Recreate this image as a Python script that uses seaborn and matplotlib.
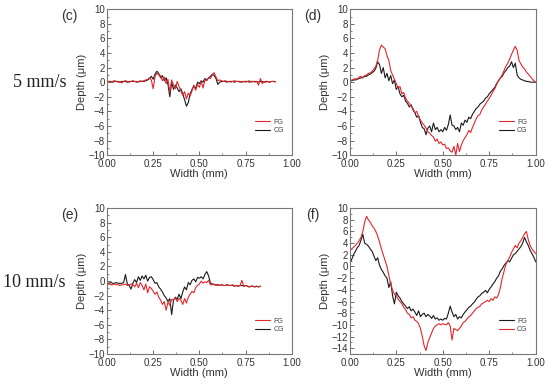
import numpy as np
import pandas as pd
import seaborn as sns
import matplotlib.pyplot as plt
from matplotlib.ticker import MultipleLocator

sns.set_style('ticks')
plt.rcParams['font.family'] = ['Liberation Sans', 'DejaVu Sans']

# ---- panel (c): 5 mm/s, narrow groove ----
x_c = np.round(np.arange(0, 0.915, 0.01), 2)
fg_c = [0.1, 0.1, 0.0, 0.1, 0.2, 0.1, 0.0, 0.1, -0.1, 0.1, 0.2, 0.1, 0.0, 0.1, 0.2, 0.1, 0.1, 0.0, 0.2, 0.1, 0.2, 0.3,
        0.4, 0.6, 0.3, -0.9, 0.8, 1.2, 1.0, 0.9, 0.2,
        0.7, -0.2, 0.4, -1.4, 0.3, -0.4, -0.9, 0.1, -0.6, -1.2,
        -1.8, -1.3, -2.3, -1.5, -1.9, -1.2, -0.4, -1.1, -0.3, -0.7,
        0.1, -0.8, 0.3, 0.2, 0.6, 0.5, 1.0, 1.3, 0.7, 0.2,
        0.3, 0.2, 0.1, 0.2, 0.1, 0.1, 0.0, 0.1, 0.2, 0.1,
        0.1, 0.0, 0.1, 0.1, 0.0, 0.1, 0.2, 0.0, 0.1, 0.0,
        0.1, -0.4, 0.5, -0.2, 0.1, 0.0, 0.1, 0.0, 0.1, 0.1, 0.0]
cg_c = [0.1, 0.1, 0.1, 0.0, 0.1, 0.1, 0.1, 0.0, 0.1, 0.1, 0.1, 0.0, 0.1, 0.1, 0.1, 0.1, 0.0, 0.1, 0.1, 0.1, 0.1, 0.2,
        0.3, 0.5, 0.8, 0.4, 1.1, 1.5, 1.2, 0.6, 0.9,
        0.2, 0.6, -0.3, -2.0, 0.0, -1.0, -0.4, -0.8, -1.3, -0.9,
        -1.6, -2.4, -3.3, -2.8, -1.6, -1.0, -0.5, -0.9, 0.0, -0.2,
        0.2, 0.0, 0.5, 0.3, 0.6, 0.8, 1.1, 0.9, 0.5, -0.3,
        0.0, 0.1, 0.1, 0.1, 0.0, 0.1, 0.1, 0.1, 0.0, 0.1,
        0.1, 0.1, 0.0, 0.1, 0.1, 0.1, 0.0, 0.1, 0.1, 0.1,
        0.1, 0.0, 0.1, 0.1, 0.0, 0.1, 0.1, 0.0, 0.1, 0.1, 0.1]

# ---- panel (d): 5 mm/s, wide groove ----
x_d = np.round(np.arange(0, 1.005, 0.01), 2)
fg_d = [0.2, 0.3, 0.4, 0.5, 0.4, 0.7, 0.8, 0.6, 0.9, 1.0,
        1.2, 1.3, 1.5, 1.8, 2.2, 3.0, 4.4, 5.1, 4.8, 4.6,
        3.6, 3.0, 1.6, 1.0, 0.4, -0.2, -0.8, -0.6, -1.6, -1.4,
        -2.2, -2.6, -2.9, -3.3, -3.6, -4.2, -4.0, -4.7, -5.2, -5.6,
        -5.9, -6.3, -6.8, -7.0, -7.3, -7.5, -8.1, -7.8, -8.4, -8.2,
        -8.6, -8.5, -9.1, -9.0, -9.4, -9.6, -8.8, -10.0, -8.4, -9.5,
        -8.6, -8.0, -7.6, -7.2, -6.6, -6.9, -6.2, -5.6, -5.0, -4.6,
        -4.4, -3.8, -3.4, -3.0, -2.6, -2.2, -1.8, -1.3, -0.9, -0.3,
        0.2, 0.6, 1.0, 1.6, 2.2, 2.6, 3.2, 3.8, 4.4, 4.9,
        4.4, 3.0, 2.5, 2.1, 1.8, 1.4, 1.1, 0.8, 0.5, 0.2, 0.0]
cg_d = [0.1, 0.2, 0.3, 0.3, 0.4, 0.5, 0.6, 0.6, 0.8, 0.8,
        1.0, 1.1, 1.3, 1.5, 1.9, 2.8, 2.4, 1.2, 2.0, 0.6,
        1.2, 0.2, 0.9, -0.2, 0.3, -1.0, -0.6, -1.6, -2.0, -1.8,
        -2.6, -2.9, -3.4, -3.1, -3.8, -4.2, -4.8, -4.6, -5.5, -6.2,
        -6.4, -7.2, -6.3, -6.0, -6.8, -5.6, -6.5, -6.2, -6.8, -6.5,
        -6.8, -6.2, -6.6, -5.8, -4.5, -5.9, -6.0, -6.5, -6.2, -6.8,
        -5.6, -5.9, -5.2, -5.5, -4.8, -5.0, -4.4, -4.0, -3.6, -3.4,
        -3.0, -2.8, -2.6, -2.2, -2.0, -1.6, -1.3, -1.0, -0.7, -0.2,
        0.2, 0.6, 0.8, 1.3, 1.6, 2.0, 2.2, 2.8, 2.0, 2.6,
        1.0, 0.6, 0.4, 0.3, 0.2, 0.1, 0.1, 0.0, 0.0, 0.0, 0.0]

# ---- panel (e): 10 mm/s, narrow groove ----
x_e = np.round(np.arange(0, 0.835, 0.01), 2)
fg_e = [-0.5, -0.4, -0.5, -0.5, -0.4, -0.5, -0.5, -0.6, -0.5, -0.5,
        -0.4, -0.6, -0.5, -0.4, -0.5, -0.8, -0.3, -0.9, -0.2, -0.6,
        -1.2, -0.4, -1.6, -0.8, -1.0, -1.4, -1.8, -1.5, -2.2, -2.6,
        -3.2, -2.8, -4.0, -2.9, -3.3, -2.5, -2.6, -2.3, -2.8, -2.4,
        -2.6, -3.2, -2.4, -3.0, -2.2, -1.8, -1.4, -1.6, -0.9, -0.6,
        -0.4, 0.0, -0.3, -0.1, -0.2, 0.1, -0.5, -0.5, -0.4, -0.6,
        -0.5, -0.6, -0.5, -0.6, -0.6, -0.5, -0.6, -0.6, -0.5, -0.7,
        -0.6, -0.7, -0.6, 0.1, -0.7, -0.6, -0.7, -0.8, -0.7, -0.7,
        -0.8, -0.7, -0.8, -0.7]
cg_e = [-0.3, -0.3, -0.2, -0.3, -0.3, -0.2, -0.3, -0.3, -0.3, -0.2,
        0.9, -0.4, -0.6, -1.1, -0.3, 0.2, -0.2, 0.6, 0.1, 0.7,
        0.3, 0.8, 0.0, 0.5, 0.6, 0.2, -0.3, -0.2, -0.8, -1.1,
        -1.5, -2.0, -2.3, -2.8, -2.4, -4.6, -2.6, -2.2, -2.5, -1.8,
        -2.4, -1.5, -0.8, -1.2, -0.2, -0.5, 0.1, 0.3, -0.1, 0.5,
        0.4, 0.6, 0.3, 0.9, 1.3, 0.7, -0.3, -0.4, -0.5, -0.5,
        -0.5, -0.6, -0.5, -0.6, -0.6, -0.5, -0.6, -0.6, -0.6, -0.7,
        -0.6, -0.7, -0.6, -0.6, -0.7, -0.6, -0.7, -0.8, -0.7, -0.7,
        -0.8, -0.7, -0.8, -0.7]

# ---- panel (f): 10 mm/s, wide groove ----
x_f = np.round(np.arange(0, 1.005, 0.01), 2)
fg_f = [0.5, 1.2, 2.0, 2.6, 3.2, 3.6, 4.5, 5.5, 4.0, 3.8,
        3.5, 3.0, 2.6, 1.8, 1.0, 1.5, 0.2, -0.5, -1.0, -1.6,
        -2.0, -3.6, -2.6, -5.0, -6.4, -4.4, -5.0, -5.4, -6.0, -6.4,
        -6.8, -7.2, -6.9, -7.6, -7.3, -7.8, -8.4, -7.6, -8.6, -8.2,
        -8.0, -8.6, -8.2, -8.5, -8.9, -8.4, -9.0, -8.8, -9.2, -9.0,
        -9.2, -8.9, -9.0, -8.0, -6.8, -7.8, -8.6, -8.2, -9.0, -8.6,
        -8.8, -8.2, -7.8, -7.4, -7.0, -6.8, -6.4, -6.1, -5.6, -5.2,
        -5.0, -4.6, -4.4, -4.1, -4.5, -3.9, -3.5, -3.0, -2.6, -2.0,
        -1.6, -0.8, -0.4, 0.2, 0.6, 1.0, 0.8, 1.4, 2.0, 2.2,
        2.6, 3.0, 3.4, 4.0, 5.0, 4.2, 3.6, 2.8, 2.2, 1.6, 0.8]
cg_f = [2.8, 3.0, 3.3, 3.6, 4.0, 4.4, 5.0, 6.0, 7.6, 8.6,
        8.0, 7.6, 7.0, 6.6, 6.0, 5.2, 4.2, 3.0, 2.0, 1.0,
        0.0, -1.5, -3.0, -4.0, -4.8, -5.0, -5.6, -6.0, -6.4, -7.0,
        -7.4, -8.0, -8.2, -8.8, -8.6, -9.2, -9.4, -9.8, -10.6, -12.0,
        -13.6, -14.4, -13.0, -12.2, -11.4, -10.6, -10.2, -10.0, -9.8, -10.0,
        -9.8, -9.9, -10.0, -9.6, -10.2, -12.6, -10.6, -10.8, -11.0, -10.6,
        -10.2, -9.6, -9.4, -9.0, -8.6, -8.4, -8.0, -7.6, -7.2, -7.0,
        -6.8, -6.4, -6.2, -6.0, -5.8, -6.0, -5.5, -5.8, -5.2, -5.4,
        -4.8, -3.6, -2.0, -0.8, 0.4, 1.0, 1.6, 2.4, 3.0, 3.6,
        3.2, 4.0, 4.4, 5.0, 5.6, 6.0, 4.6, 3.6, 3.0, 2.6, 2.2]

RED = '#e5262b'
BLACK = '#1a1a1a'
GREY = '#555555'

fig = plt.figure(figsize=(5.5, 3.84), dpi=100)
ax_c = fig.add_axes([0.1945, 0.596, 0.336, 0.380])
ax_d = fig.add_axes([0.636, 0.596, 0.338, 0.380])
ax_e = fig.add_axes([0.1945, 0.078, 0.336, 0.380])
ax_f = fig.add_axes([0.636, 0.078, 0.338, 0.380])

panels = [
    (ax_c, x_c, [('CG', cg_c, BLACK), ('FG', fg_c, RED)], (-10, 10), '(c)'),
    (ax_d, x_d, [('CG', cg_d, BLACK), ('FG', fg_d, RED)], (-10, 10), '(d)'),
    (ax_e, x_e, [('CG', cg_e, BLACK), ('FG', fg_e, RED)], (-10, 10), '(e)'),
    (ax_f, x_f, [('FG', fg_f, BLACK), ('CG', cg_f, RED)], (-15, 10), '(f)'),
]

for ax, x, series, ylim, tag in panels:
    for name, y, col in series:
        sns.lineplot(x=x, y=y, ax=ax, color=col, lw=0.8, label=name)
    ax.set_xlim(0, 1)
    ax.set_ylim(*ylim)
    ax.xaxis.set_major_locator(MultipleLocator(0.25))
    ax.xaxis.set_minor_locator(MultipleLocator(0.125))
    ax.yaxis.set_major_locator(MultipleLocator(2))
    ax.yaxis.set_minor_locator(MultipleLocator(1))
    ax.xaxis.set_major_formatter(plt.FormatStrFormatter('%.2f'))
    ax.tick_params(which='major', direction='in', length=3, width=0.6, labelsize=7,
                   colors=GREY, labelcolor='#333333', pad=1.5)
    ax.tick_params(axis='x', which='major', pad=3)
    ax.tick_params(which='minor', direction='in', length=1.5, width=0.5, colors=GREY)
    for sp in ax.spines.values():
        sp.set_visible(True)
        sp.set_color('#777777')
        sp.set_linewidth(0.8)
    ax.set_xlabel('Width (mm)', fontsize=8, color='#333333', labelpad=0)
    ax.set_ylabel('Depth (\u03bcm)', fontsize=8, color='#333333', labelpad=1)
    h, l = ax.get_legend_handles_labels()
    hd = dict(zip(l, h))
    ax.legend([hd['FG'], hd['CG']], ['FG', 'CG'], loc='lower right', bbox_to_anchor=(0.99, 0.1),
              frameon=False, fontsize=5, handlelength=2.2, handletextpad=0.4,
              labelspacing=0.2, labelcolor='#444444')
    if ylim[0] == -15:
        ax.set_yticks(np.arange(-14, 11, 2))
    pos = ax.get_position()
    fig.text(pos.x0 - 0.068, pos.y1 - 0.018, tag,
             fontsize=10, color='#333333', ha='center', va='center')

fig.text(0.073, 0.785, '5 mm/s', fontsize=13, family=['Liberation Serif', 'DejaVu Serif'],
         ha='center', va='center', color='#222222')
fig.text(0.063, 0.265, '10 mm/s', fontsize=13, family=['Liberation Serif', 'DejaVu Serif'],
         ha='center', va='center', color='#222222')

fig.savefig('out.png', dpi=100)
